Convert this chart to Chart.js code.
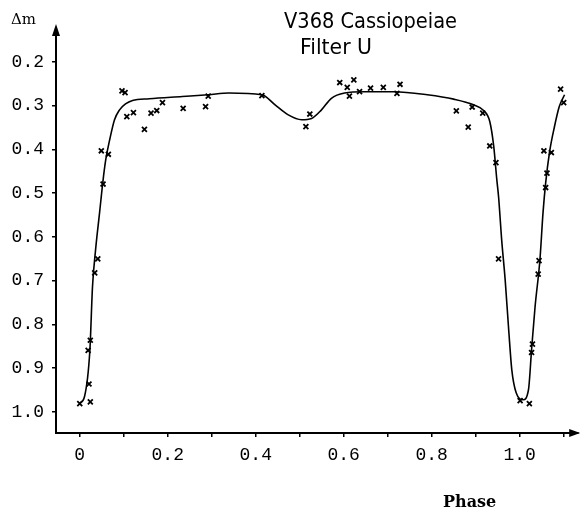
<!DOCTYPE html>
<html>
<head>
<meta charset="utf-8">
<script src="https://cdn.jsdelivr.net/npm/chart.js@4.4.1/dist/chart.umd.min.js"></script>
<style>
  html, body { margin: 0; padding: 0; background: #fff; }
  #wrap { width: 584px; height: 512px; }
</style>
</head>
<body>
<div id="wrap"><canvas id="lightCurve" width="584" height="512"></canvas></div>
<script>
// 관측점 (위상, 등급차)
const obsPhase = [0.0, 0.019, 0.021, 0.024, 0.024, 0.034, 0.041, 0.049, 0.053, 0.065, 0.096, 0.103, 0.107,
  0.122, 0.147, 0.162, 0.175, 0.188, 0.235, 0.286, 0.292, 0.414, 0.514, 0.523, 0.591, 0.608, 0.613,
  0.623, 0.636, 0.661, 0.690, 0.721, 0.728, 0.856, 0.883, 0.892, 0.916, 0.932, 0.946, 0.952,
  1.001, 1.022, 1.027, 1.029, 1.042, 1.044, 1.055, 1.059, 1.062, 1.072, 1.093, 1.100];
const obsDm = [0.981, 0.859, 0.936, 0.836, 0.977, 0.682, 0.650, 0.403, 0.479, 0.411, 0.266, 0.270, 0.325,
  0.316, 0.354, 0.317, 0.311, 0.293, 0.306, 0.302, 0.278, 0.277, 0.348, 0.319, 0.247, 0.258, 0.278,
  0.241, 0.268, 0.260, 0.258, 0.272, 0.251, 0.312, 0.349, 0.303, 0.317, 0.392, 0.430, 0.650,
  0.974, 0.981, 0.864, 0.845, 0.685, 0.654, 0.403, 0.487, 0.454, 0.407, 0.262, 0.293];

// 손으로 그린 곡선
const curvePhase = [0.0, 0.011, 0.023, 0.029, 0.036, 0.045, 0.053, 0.059, 0.068, 0.079, 0.090, 0.104,
  0.120, 0.158, 0.233, 0.292, 0.339, 0.414, 0.444, 0.474, 0.504, 0.527, 0.549, 0.572, 0.602,
  0.647, 0.715, 0.790, 0.850, 0.895, 0.918, 0.932, 0.941, 0.948, 0.952, 0.959, 0.967, 0.975,
  0.982, 0.992, 1.008, 1.020, 1.027, 1.035, 1.046, 1.053, 1.059, 1.068, 1.079, 1.090, 1.102];
const curveDm = [0.980, 0.964, 0.859, 0.713, 0.629, 0.545, 0.470, 0.424, 0.378, 0.332, 0.310, 0.296,
  0.288, 0.284, 0.279, 0.275, 0.271, 0.275, 0.298, 0.321, 0.332, 0.329, 0.310, 0.283, 0.271,
  0.268, 0.268, 0.275, 0.285, 0.298, 0.311, 0.336, 0.393, 0.469, 0.508, 0.606, 0.698, 0.812,
  0.903, 0.956, 0.972, 0.949, 0.858, 0.759, 0.652, 0.545, 0.477, 0.405, 0.348, 0.302, 0.275];

// 눈금
const xTickValues = [0, 0.1, 0.2, 0.3, 0.4, 0.5, 0.6, 0.7, 0.8, 0.9, 1.0, 1.1];
const xTickLabels = ['0', '', '0.2', '', '0.4', '', '0.6', '', '0.8', '', '1.0', ''];
const yTickValues = [0.2, 0.3, 0.4, 0.5, 0.6, 0.7, 0.8, 0.9, 1.0];
const yTickLabels = ['0.2', '0.3', '0.4', '0.5', '0.6', '0.7', '0.8', '0.9', '1.0'];

const toXY = (xs, ys) => xs.map((x, i) => ({x: x, y: ys[i]}));

// 화살표 + 글자
const decor = {
  id: 'decor',
  afterDraw(chart) {
    const c = chart.ctx;
    const a = chart.chartArea;
    c.save();
    c.fillStyle = '#000';
    // y축 화살표
    c.beginPath();
    c.moveTo(a.left, a.top - 4);
    c.lineTo(a.left - 4, a.top + 8);
    c.lineTo(a.left + 4, a.top + 8);
    c.closePath();
    c.fill();
    // x축 화살표
    c.beginPath();
    c.moveTo(a.right + 2, a.bottom);
    c.lineTo(a.right - 9, a.bottom - 4);
    c.lineTo(a.right - 9, a.bottom + 4);
    c.closePath();
    c.fill();

    c.textBaseline = 'middle';
    c.textAlign = 'left';
    c.font = '21px "DejaVu Sans"';
    c.fillText('V368 Cassiopeiae', 284, 23, 173);
    c.fillText('Filter U', 300, 49, 72);

    c.font = '15px "DejaVu Serif"';
    c.fillText('\u0394m', 11, 20, 25);

    c.font = 'bold 16px "DejaVu Serif"';
    c.fillText('Phase', 443, 503, 56);
    c.restore();
  }
};

const ctx = document.getElementById('lightCurve');
new Chart(ctx, {
  type: 'scatter',
  data: {
    datasets: [{
      data: toXY(curvePhase, curveDm),
      showLine: true,
      borderColor: '#000',
      borderWidth: 1.6,
      pointRadius: 0,
      cubicInterpolationMode: 'monotone',
      fill: false
    }, {
      data: toXY(obsPhase, obsDm),
      pointStyle: 'crossRot',
      pointRadius: 3.5,
      borderColor: '#000',
      borderWidth: 1.8,
      backgroundColor: '#000'
    }]
  },
  options: {
    responsive: false,
    animation: false,
    layout: {padding: {top: 28, right: 2, left: 0, bottom: 0}},
    plugins: {legend: {display: false}, tooltip: {enabled: false}},
    scales: {
      x: {
        type: 'linear',
        min: -0.054,
        max: 1.133,
        afterBuildTicks: (s) => { s.ticks = xTickValues.map(v => ({value: v})); },
        afterFit: (s) => { s.height = 79; },
        grid: {display: true, drawOnChartArea: false, drawTicks: true, tickLength: 4, color: '#000', lineWidth: 1.5},
        border: {display: true, color: '#000', width: 2},
        ticks: {
          color: '#000',
          padding: 7,
          autoSkip: false,
          maxRotation: 0,
          font: {family: '"Liberation Mono"', size: 18},
          callback: (v, i) => xTickLabels[i]
        }
      },
      y: {
        type: 'linear',
        reverse: true,
        min: 0.1224,
        max: 1.048,
        afterBuildTicks: (s) => { s.ticks = yTickValues.map(v => ({value: v})); },
        afterFit: (s) => { s.width = 56; },
        grid: {display: true, drawOnChartArea: false, drawTicks: true, tickLength: 4, color: '#000', lineWidth: 1.5},
        border: {display: true, color: '#000', width: 2},
        ticks: {
          color: '#000',
          padding: 8,
          autoSkip: false,
          font: {family: '"Liberation Mono"', size: 18},
          callback: (v, i) => yTickLabels[i]
        }
      }
    }
  },
  plugins: [decor]
});
</script>
</body>
</html>
